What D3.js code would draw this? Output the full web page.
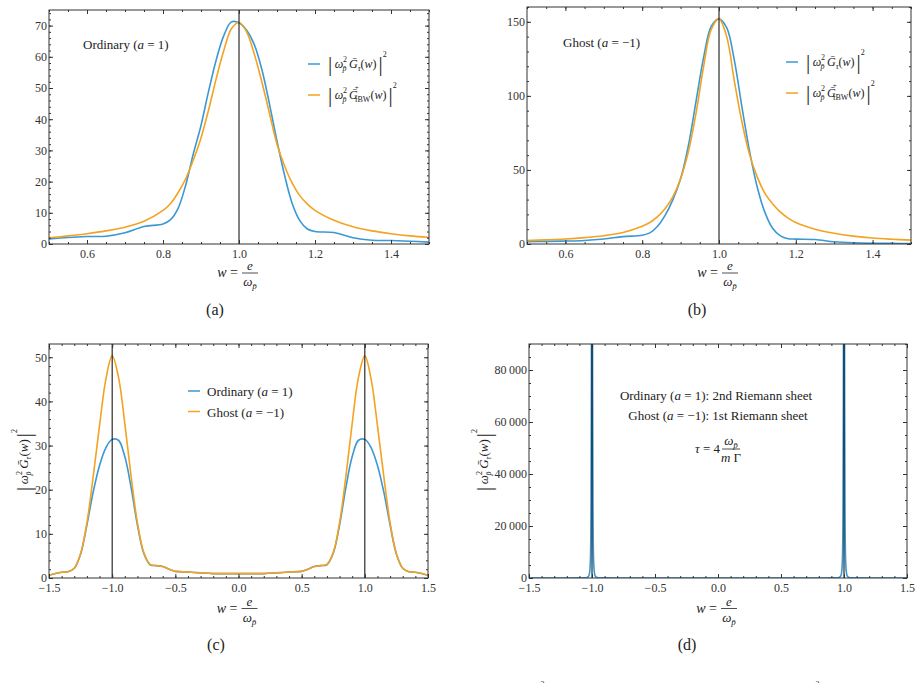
<!DOCTYPE html>
<html lang="en">
<head>
<meta charset="UTF-8">
<title>Propagator plots</title>
<script src="https://d3js.org/d3.v7.min.js"></script>
<style>
  body { margin: 0; background: #fff; }
  svg text, svg tspan { font-family: "Liberation Serif", "Times New Roman", "DejaVu Serif", serif !important; fill: #222; }
  .frame { fill: none; stroke: #333; stroke-width: 1; }
  .tick line { stroke: #333; }
  .tick text { font-size: 12px; fill: #333; }
  .domain { display: none; }
</style>
</head>
<body>
<div id="chart"></div>
<script>
// ---- data ----
var abX = [0.5,0.55,0.6,0.65,0.7,0.75,0.8,0.82,0.84,0.86,0.88,0.9,0.92,0.94,0.96,0.98,1.0,1.02,1.04,1.06,1.08,1.1,1.12,1.14,1.16,1.18,1.2,1.25,1.3,1.35,1.4,1.45,1.5];
var aOrdinary = [1.6,2.1,2.4,2.5,3.6,5.6,6.4,7.8,11.5,19,29,38,49,59,66.8,71.2,70.9,68.5,64,56,45,33,22,13,7.5,4.8,4.0,3.7,2.0,1.2,1.1,0.9,0.6];
var aBW       = [2.0,2.6,3.3,4.2,5.4,7.3,10.8,13,16.5,21,27,34,43,53,62,69,71,68,61,52,42,32,25,19.5,15.5,12.8,10.8,7.6,5.5,4.2,3.3,2.6,2.1];
var bGhost    = [1.5,1.8,2.0,2.4,3.4,5.0,5.9,7.5,12,19.5,30,44,66,96,126,147,152,146,124,92,62,38,21,10.5,5.5,3.6,3.3,3.0,1.5,0.8,0.5,0.4,0.3];
var bBW       = [2.3,2.8,3.4,4.3,5.6,7.8,12,14.5,18.5,24,32,44,62,88,120,145,152,140,110,82,60,45,34,27,21.5,17.5,14.5,10,7.2,5.3,4.0,3.2,2.6];

var cX = [-1.5,-1.45,-1.4,-1.35,-1.3,-1.25,-1.2,-1.15,-1.1,-1.05,-1.0,-0.95,-0.9,-0.85,-0.8,-0.75,-0.7,-0.65,-0.6,-0.55,-0.5,-0.4,-0.3,-0.2,-0.1,0,0.1,0.2,0.3,0.4,0.5,0.55,0.6,0.65,0.7,0.75,0.8,0.85,0.9,0.95,1.0,1.05,1.1,1.15,1.2,1.25,1.3,1.35,1.4,1.45,1.5];
var cGhost    = [0.6,1.0,1.3,1.4,2.2,5.5,12.5,23,34.5,45,50.3,45.5,35,23,12.5,5.8,3.1,2.8,2.6,2.0,1.5,1.35,1.15,1.0,1.0,1.0,1.0,1.0,1.15,1.35,1.5,2.0,2.6,2.8,3.1,5.8,12.5,23,35,45.5,50.3,45,34.5,23,12.5,5.5,2.2,1.4,1.3,1.0,0.6];
var cOrdinary = [0.6,1.0,1.3,1.4,2.2,5.4,12,19.5,25.5,29.5,31.4,31.2,27.5,20.5,12,5.6,3.0,2.8,2.6,2.0,1.5,1.35,1.15,1.0,1.0,1.0,1.0,1.0,1.15,1.35,1.5,2.0,2.6,2.8,3.0,5.6,12,20.5,27.5,31.2,31.4,29.5,25.5,19.5,12,5.4,2.2,1.4,1.3,1.0,0.6];

var dX = [-1.5,-1.2,-1.1,-1.05,-1.035,-1.025,-1.018,-1.012,-1.008,-1.005,-1.003,-1.0,-0.997,-0.995,-0.992,-0.988,-0.982,-0.975,-0.965,-0.95,-0.9,-0.8,-0.5,0,0.5,0.8,0.9,0.95,0.965,0.975,0.982,0.988,0.992,0.995,0.997,1.0,1.003,1.005,1.008,1.012,1.018,1.025,1.035,1.05,1.1,1.2,1.5];
var dSpike = [1.5,8,30,120,300,800,2500,8000,25000,70000,150000,250000,150000,70000,25000,8000,2500,800,300,120,30,8,1.5,1,1.5,8,30,120,300,800,2500,8000,25000,70000,150000,250000,150000,70000,25000,8000,2500,800,300,120,30,8,1.5];

var abXTicks = [0.6,0.8,1.0,1.2,1.4];
var aYTicks = [0,10,20,30,40,50,60,70];
var bYTicks = [0,50,100,150];
var cdXTicks = [-1.5,-1.0,-0.5,0.0,0.5,1.0,1.5];
var cYTicks = [0,10,20,30,40,50];
var dYTicks = [0,20000,40000,60000,80000];

var blue = "#3a98d4", orange = "#f4a221";
var SERIF = "'Liberation Serif', 'Times New Roman', 'DejaVu Serif', serif";

var svg = d3.select("#chart").append("svg")
    .attr("width", 921).attr("height", 683)
    .attr("font-family", SERIF);

var fmt1 = d3.format(".1f");
var fmtInt = d3.format("d");
var fmtK = function(d) { return d === 0 ? "0" : d3.format(",")(d).replace(",", "\u2009"); };

// math text: pieces are [string, {s: size, o: baseline offset, dx, i: italic}]
function mathText(g, x, y, pieces, size, anchor) {
    var t = g.append("text").attr("x", x).attr("y", y)
        .attr("text-anchor", anchor || "start")
        .style("font-family", SERIF)
        .style("font-size", size + "px");
    var prev = 0;
    pieces.forEach(function(p) {
        var o = p[1] || {};
        var off = o.o || 0;
        var ts = t.append("tspan").text(p[0])
            .attr("dy", off - prev)
            .style("font-size", (o.s || size) + "px");
        if (o.dx) ts.attr("dx", o.dx);
        if (o.i) ts.style("font-style", "italic");
        prev = off;
    });
    return t;
}

function gExpr(bw) {
    var p = [
        ["|", {s: 21, o: 3}], ["\u2009", {}], ["\u03c9", {i: 1}], ["2", {s: 8, o: -6}], ["p\u0304", {s: 8, o: 3, dx: -4.5, i: 1}],
        ["\u2009", {}], ["\u1E20", {i: 1}]
    ];
    if (bw) {
        p.push(["+", {s: 7, o: -9, dx: -3}]);
        p.push(["\u03c4", {s: 8, o: 3, dx: -4, i: 1}]);
        p.push(["BW", {s: 8, o: 3}]);
    } else {
        p.push(["\u03c4", {s: 8, o: 3, i: 1}]);
    }
    p.push(["(", {}], ["w", {i: 1}], [")", {}], ["|", {s: 21, o: 3, dx: 2}], ["2", {s: 8, o: -11}]);
    return p;
}

function xLabel(g, cx, cy) {
    mathText(g, cx - 1, cy + 4, [["w", {i: 1}], [" =", {}]], 14, "end");
    g.append("line").attr("x1", cx + 3).attr("x2", cx + 19)
        .attr("y1", cy).attr("y2", cy).attr("stroke", "#222").attr("stroke-width", 0.8);
    mathText(g, cx + 11, cy - 3, [["e", {i: 1}]], 13, "middle");
    mathText(g, cx + 11, cy + 13, [["\u03c9", {i: 1}], ["p\u0304", {s: 9, o: 3, i: 1}]], 13, "middle");
}

var panels = [
    { id: "a", l: 49, r: 429, t: 10, b: 244, xd: [0.5, 1.5], yd: [0, 75],
      xt: abXTicks, xm: d3.range(0.5, 1.501, 0.05), yt: aYTicks, ym: d3.range(0, 75.1, 2),
      xf: fmt1, yf: fmtInt, vlines: [1],
      series: [{x: abX, y: aOrdinary, c: blue}, {x: abX, y: aBW, c: orange}], curve: d3.curveCatmullRom },
    { id: "b", l: 527, r: 911, t: 7, b: 244, xd: [0.5, 1.5], yd: [0, 160],
      xt: abXTicks, xm: d3.range(0.5, 1.501, 0.05), yt: bYTicks, ym: d3.range(0, 160.1, 10),
      xf: fmt1, yf: fmtInt, vlines: [1],
      series: [{x: abX, y: bGhost, c: blue}, {x: abX, y: bBW, c: orange}], curve: d3.curveCatmullRom },
    { id: "c", l: 49, r: 428, t: 344, b: 578, xd: [-1.5, 1.5], yd: [0, 53],
      xt: cdXTicks, xm: d3.range(-1.5, 1.501, 0.1), yt: cYTicks, ym: d3.range(0, 53.1, 2),
      xf: fmt1, yf: fmtInt, vlines: [-1, 1],
      series: [{x: cX, y: cOrdinary, c: blue}, {x: cX, y: cGhost, c: orange}], curve: d3.curveCatmullRom },
    { id: "d", l: 529, r: 907, t: 344, b: 578, xd: [-1.5, 1.5], yd: [0, 90000],
      xt: cdXTicks, xm: d3.range(-1.5, 1.501, 0.1), yt: dYTicks, ym: d3.range(0, 90001, 5000),
      xf: fmt1, yf: fmtK, vlines: [-1, 1],
      series: [{x: dX, y: dSpike, c: blue}], curve: d3.curveMonotoneX }
];

panels.forEach(function(p) {
    var x = d3.scaleLinear().domain(p.xd).range([p.l, p.r]);
    var y = d3.scaleLinear().domain(p.yd).range([p.b, p.t]);
    var g = svg.append("g").attr("class", "panel-" + p.id);

    svg.append("clipPath").attr("id", "clip-" + p.id)
      .append("rect").attr("x", p.l).attr("y", p.t).attr("width", p.r - p.l).attr("height", p.b - p.t);

    var line = d3.line().curve(p.curve);
    var plot = g.append("g").attr("clip-path", "url(#clip-" + p.id + ")");
    p.series.forEach(function(s) {
        plot.append("path")
            .datum(s.x.map(function(v, i) { return [x(v), y(s.y[i])]; }))
            .attr("fill", "none").attr("stroke", s.c).attr("stroke-width", 1.6)
            .attr("d", line);
    });
    p.vlines.forEach(function(v) {
        plot.append("line").attr("x1", x(v)).attr("x2", x(v))
            .attr("y1", p.t).attr("y2", p.b).attr("stroke", "#000").attr("stroke-width", 1);
    });

    // frame ticks (inward, on all four sides)
    var axes = [
        [d3.axisBottom(x).tickValues(p.xt).tickSize(-4).tickPadding(5).tickFormat(p.xf), 0, p.b],
        [d3.axisBottom(x).tickValues(p.xm).tickSize(-2).tickFormat(""), 0, p.b],
        [d3.axisTop(x).tickValues(p.xt).tickSize(-4).tickFormat(""), 0, p.t],
        [d3.axisTop(x).tickValues(p.xm).tickSize(-2).tickFormat(""), 0, p.t],
        [d3.axisLeft(y).tickValues(p.yt).tickSize(-4).tickPadding(2).tickFormat(p.yf), p.l, 0],
        [d3.axisLeft(y).tickValues(p.ym).tickSize(-2).tickFormat(""), p.l, 0],
        [d3.axisRight(y).tickValues(p.yt).tickSize(-4).tickFormat(""), p.r, 0],
        [d3.axisRight(y).tickValues(p.ym).tickSize(-2).tickFormat(""), p.r, 0]
    ];
    axes.forEach(function(a) {
        g.append("g").attr("transform", "translate(" + a[1] + "," + a[2] + ")")
            .call(a[0])
            .attr("font-family", SERIF).attr("font-size", 12);
    });

    g.append("rect").attr("class", "frame")
        .attr("x", p.l).attr("y", p.t).attr("width", p.r - p.l).attr("height", p.b - p.t);

    xLabel(g, (p.l + p.r) / 2, p.id === "a" || p.id === "b" ? 273 : 608.5);
});

// captions
[["(a)", 215, 315], ["(b)", 697, 315], ["(c)", 216, 650], ["(d)", 687, 650]].forEach(function(c) {
    svg.append("text").attr("x", c[1]).attr("y", c[2]).attr("text-anchor", "middle")
        .style("font-family", SERIF).style("font-size", "16px").text(c[0]);
});

// panel a / b annotations and legends
var pa = svg.select(".panel-a"), pb = svg.select(".panel-b");
mathText(pa, 83, 49, [["Ordinary  (", {}], ["a", {i: 1}], [" = 1)", {}]], 13);
mathText(pb, 563, 47, [["Ghost  (", {}], ["a", {i: 1}], [" = \u22121)", {}]], 13);

function legendAB(g, x0, y0, gap) {
    [[blue, false], [orange, true]].forEach(function(it, i) {
        var yy = y0 + i * gap;
        g.append("line").attr("x1", x0).attr("x2", x0 + 12).attr("y1", yy).attr("y2", yy)
            .attr("stroke", it[0]).attr("stroke-width", 1.5);
        mathText(g, x0 + 20, yy + 4, gExpr(it[1]), 12);
    });
}
legendAB(pa, 308, 64, 31);
legendAB(pb, 786, 62, 31);

// panel c legend and y labels
var pc = svg.select(".panel-c"), pd = svg.select(".panel-d");
[[blue, "Ordinary  (", " = 1)"], [orange, "Ghost  (", " = \u22121)"]].forEach(function(it, i) {
    var yy = 391 + i * 20.5;
    pc.append("line").attr("x1", 188).attr("x2", 200).attr("y1", yy).attr("y2", yy)
        .attr("stroke", it[0]).attr("stroke-width", 1.5);
    mathText(pc, 207, yy + 5, [[it[1], {}], ["a", {i: 1}], [it[2], {}]], 13);
});

function yLabel(g, cx, cy) {
    var gg = g.append("g").attr("transform", "translate(" + cx + "," + cy + ") rotate(-90)");
    mathText(gg, 0, 0, gExpr(false), 13, "middle");
}
yLabel(pc, 28, 460);
yLabel(pd, 488, 460);

// panel d notes
mathText(pd, 716, 400, [["Ordinary  (", {}], ["a", {i: 1}], [" = 1): 2nd Riemann sheet", {}]], 13, "middle");
mathText(pd, 718, 420, [["Ghost  (", {}], ["a", {i: 1}], [" = \u22121): 1st Riemann sheet", {}]], 13, "middle");
mathText(pd, 720, 453, [["\u03c4", {i: 1}], [" = 4", {}]], 13, "end");
pd.append("line").attr("x1", 722).attr("x2", 740).attr("y1", 449).attr("y2", 449)
    .attr("stroke", "#222").attr("stroke-width", 0.8);
mathText(pd, 731, 445, [["\u03c9", {i: 1}], ["p\u0304", {s: 9, o: 3, i: 1}]], 13, "middle");
mathText(pd, 731, 462, [["m", {i: 1}], [" \u0393", {}]], 13, "middle");

// figure caption line (cut off by the page edge)
mathText(svg, 470, 698, gExpr(false), 17);
mathText(svg, 735, 698, gExpr(true), 17);
</script>
</body>
</html>
